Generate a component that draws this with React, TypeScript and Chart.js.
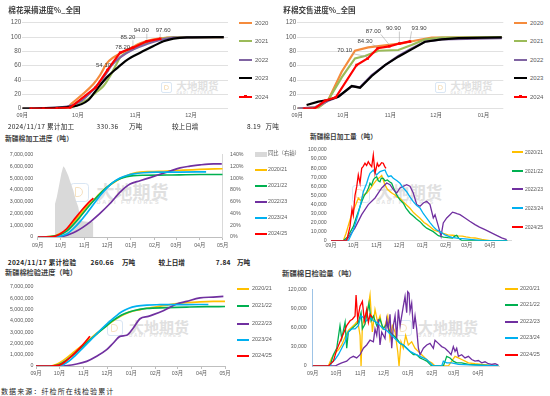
import React, { useEffect, useRef } from "react";
import { Chart, registerables } from "chart.js";

Chart.register(...registerables);

type Pt = [number, number];
type Box = { x: number; y: number; w: number; h: number };
type Area = { l: number; t: number; r: number; b: number };

const LATIN = '"Liberation Sans", "Noto Sans CJK SC", sans-serif';
const CJK = '"Noto Sans CJK SC", "Liberation Sans", sans-serif';
const AXIS_TEXT = "#595959";

// x axis: days counted from 1 September
const MONTH_DAYS = [0, 30, 61, 91, 122, 153, 181, 212, 242];
const MONTH_LABELS = ["09月", "10月", "11月", "12月", "01月", "02月", "03月", "04月", "05月"];

const TOP_YEARS = ["2020", "2021", "2022", "2023", "2024"];
const SEASONS = ["2020/21", "2021/22", "2022/23", "2023/24", "2024/25"];
const TOP_COLORS = ["#F58B3C", "#9BBB59", "#8064A2", "#000000", "#FF0000"];
const SEASON_COLORS = ["#FFC000", "#00B050", "#7030A0", "#00B0F0", "#FF0000"];

// ---------- 棉花采摘进度%_全国 ----------
const PICK_2020: Pt[] = [[0, 0], [24, 1.9], [26.7, 7.4], [32.1, 19.1], [38.4, 34.4], [42, 47], [45.6, 63.3], [49.2, 71.6], [52.8, 77.2], [58.2, 84.2], [63.6, 91.2], [70.8, 96.7], [78, 99.1], [83.4, 100], [108.7, 100]];
const PICK_2021: Pt[] = [[0, 0], [25.8, 1.9], [34.8, 12.1], [40.2, 23.7], [43.8, 31.6], [47.4, 45.6], [50.1, 58.6], [52.8, 71.6], [56.4, 78.6], [61.8, 85.6], [67.2, 92.1], [74.4, 97.2], [81.6, 99.5], [108.7, 100]];
const PICK_2022: Pt[] = [[0, 0], [24, 2.8], [31.2, 9.8], [38.4, 27], [43.8, 43.7], [48.3, 60.9], [52.8, 71.6], [60, 82.8], [67.2, 90.2], [74.4, 95.8], [81.6, 99.1], [108.7, 100]];
const PICK_2023: Pt[] = [[0, 0], [26.7, 2.8], [35.7, 12.1], [40.2, 27], [45.6, 43.7], [51, 56.3], [56.4, 67.9], [63.6, 78.1], [70.8, 87.4], [76.2, 94], [81.6, 97.7], [88.8, 99.5], [108.7, 100]];
const PICK_2024: Pt[] = [[4.5, 0], [11.4, 0], [18.6, 0.5], [25.8, 1.5], [39.7, 29.8], [46, 54.1], [52.8, 78.2], [59.7, 85.2], [67.2, 94], [74.4, 97.6]];

// ---------- 籽棉交售进度%_全国 ----------
const SALE_2020: Pt[] = [[0, 0], [13.8, 1.9], [20.3, 12.1], [29.1, 51.6], [37.8, 80.9], [46.5, 85.6], [57.5, 88.4], [68.4, 91.2], [79.4, 95.8], [88.1, 99.1], [134, 99.5]];
const SALE_2021: Pt[] = [[0, 0], [13.8, 1.9], [20.3, 12.1], [29.1, 43.7], [37.8, 70.2], [44.4, 73.5], [53.1, 80.9], [66.2, 81.9], [74.9, 88.8], [83.7, 96.7], [94.7, 99.1], [134, 100]];
const SALE_2022: Pt[] = [[0, 0], [11.6, 1.9], [20.3, 11.2], [26.9, 16.7], [35.7, 31.6], [41.1, 29.8], [48.8, 47], [57.5, 60.9], [66.2, 73.5], [74.9, 84.2], [83.7, 93.5], [94.7, 96.7], [134, 98.6]];
const SALE_2023: Pt[] = [[6.1, 5.1], [13.8, 9.8], [20.3, 12.1], [26.9, 16.7], [35.7, 31.6], [41.1, 29.3], [48.8, 45.6], [57.5, 60.9], [66.2, 72.6], [74.9, 82.8], [83.7, 93.5], [94.7, 96.7], [105.6, 98.6], [134, 99.5]];
const SALE_2024: Pt[] = [[4.4, 0], [11.2, 0], [18.2, 11], [25.2, 16], [38.9, 61], [46.1, 70.1], [52.7, 84.3], [60.3, 87], [66.9, 90.9], [73.9, 93.9]];

// ---------- 新疆棉加工进度（吨） ----------
const PROC_2020: Pt[] = [[0, 0], [20.5, 80000], [29.2, 300000], [37.9, 650000], [46.6, 1250000], [55.4, 1900000], [64.1, 2550000], [72.8, 3100000], [81.5, 3700000], [90.3, 4200000], [99, 4600000], [107.7, 4950000], [116.5, 5200000], [125.2, 5400000], [133.9, 5500000], [147, 5550000], [168.8, 5600000], [190.6, 5680000], [212.4, 5730000], [242, 5790000]];
const PROC_2021: Pt[] = [[0, 0], [16.1, 30000], [29.2, 200000], [37.9, 500000], [46.6, 1050000], [55.4, 1700000], [64.1, 2400000], [72.8, 3050000], [81.5, 3650000], [90.3, 4200000], [99, 4650000], [107.7, 4950000], [116.5, 5120000], [125.2, 5200000], [138.3, 5240000], [168.8, 5260000], [212.4, 5300000], [242, 5300000]];
const PROC_2022: Pt[] = [[0, 0], [29.2, 30000], [46.6, 360000], [64.1, 1050000], [81.5, 2010000], [94.6, 2840000], [107.7, 3800000], [120.8, 4490000], [133.9, 4770000], [147, 5040000], [160.1, 5320000], [173.2, 5590000], [186.3, 5870000], [199.3, 6010000], [212.4, 6120000], [229.9, 6200000], [240.8, 6200000]];
const PROC_2023: Pt[] = [[0, 0], [24.8, 30000], [37.9, 250000], [46.6, 700000], [55.4, 1300000], [64.1, 2000000], [72.8, 2750000], [81.5, 3500000], [90.3, 4150000], [99, 4650000], [107.7, 5000000], [116.5, 5220000], [125.2, 5350000], [138.3, 5450000], [155.7, 5500000], [186.3, 5510000], [220.3, 5520000]];
const PROC_2024: Pt[] = [[0, 0], [20.5, 30000], [29.2, 250000], [37.9, 700000], [46.6, 1400000], [55.4, 2100000], [64.1, 2750000], [72.8, 3300000]];
const PROC_YOY: Pt[] = [[22.6, 0], [22.6, 56], [25, 68], [28, 88], [31, 108], [33.5, 120], [35.5, 117], [38, 110], [40, 104], [43, 92], [46.6, 79], [50, 62], [53.1, 51], [55.4, 34], [57, 27], [65, 26], [72.8, 26], [72.8, 0]];

// ---------- 新疆棉日加工量（吨） ----------
const DPROC_2020: Pt[] = [[0, 0], [16.4, 0], [20, 8000], [25.3, 22900], [28, 30000], [32, 37600], [36.4, 46800], [40, 44000], [43.1, 50400], [47.6, 52300], [51, 56000], [54.3, 59600], [57, 63000], [60.9, 67000], [64, 69000], [67.6, 72000], [70, 66000], [72, 61500], [75, 57000], [78.7, 54100], [82, 52000], [85.3, 50400], [88, 48000], [92, 46800], [96, 43000], [100, 40000], [105.3, 35800], [110, 31000], [114, 28000], [118.7, 24800], [124, 20000], [128, 18000], [132, 15500], [137, 12000], [143.1, 10000], [150, 8000], [156, 6400], [162, 6000], [169.3, 5300], [175, 5000], [180, 4200], [186, 3500], [192, 3000], [201, 1400], [212, 0], [235, 0]];
const DPROC_2021: Pt[] = [[0, 0], [16.4, 0], [22, 4000], [26, 10000], [29.7, 15500], [33, 24000], [36.4, 32000], [40.9, 43000], [44, 49000], [47.6, 54000], [50, 58000], [52, 63300], [54, 61000], [56.4, 67000], [58, 69000], [60.9, 70600], [63, 66000], [65.3, 65000], [67, 69000], [69.7, 68800], [72, 66000], [75.1, 67000], [78, 65000], [80.9, 63300], [84, 57000], [87.6, 50400], [92, 45000], [96.4, 41300], [100, 36000], [105.3, 30300], [110, 27000], [114, 24000], [118.7, 21000], [123, 17000], [127.6, 13800], [132, 12000], [136.4, 10000], [143.1, 5500], [150, 4000], [156, 3300], [162, 3000], [165, 5000], [167.6, 6000], [170, 3000], [174.7, 0], [235, 0]];
const DPROC_2022: Pt[] = [[0, 0], [18.7, 0], [23.1, 3100], [32, 14100], [40.9, 28700], [49.7, 39800], [58.7, 47100], [67.6, 58100], [74.3, 63700], [78.7, 61800], [83.1, 56300], [87.6, 52600], [92, 58100], [96.4, 60000], [100.9, 61800], [105.3, 60000], [109.7, 52600], [114.3, 39800], [118.7, 38000], [123.1, 41600], [127.6, 43500], [132, 39800], [136.4, 25100], [138.7, 28700], [143.1, 16000], [146.7, 5000], [149.7, 19600], [154.3, 25100], [158.7, 28700], [162, 31500], [165.3, 30600], [168, 29800], [172, 28700], [178.7, 25100], [185, 21500], [192, 17700], [198, 15000], [205.3, 12200], [212, 9500], [218.7, 6700], [227.6, 3100], [234.3, 1100]];
const DPROC_2023: Pt[] = [[0, 0], [23.1, 0], [26, 5000], [29.7, 11900], [33, 20000], [36.4, 30300], [40, 42000], [43.1, 54000], [47.6, 63300], [50, 70000], [52, 74300], [56.4, 78000], [58.5, 75000], [60.9, 72500], [63, 74500], [65.3, 76100], [68, 77000], [72, 78000], [74, 74000], [76.4, 70600], [80, 71500], [83.1, 68800], [88, 66000], [92, 63300], [96, 58500], [100.9, 54000], [105, 48500], [109.7, 43000], [114, 39000], [118.7, 36000], [123, 30000], [127.6, 25000], [132, 20000], [136.4, 15500], [140.5, 12000], [145.3, 10000], [149, 8000], [152, 6400], [157, 4800], [161.3, 3600], [170, 2600], [178.7, 2000], [192, 1000], [205.3, 0], [235, 0]];
const DPROC_2024: Pt[] = [[0, 0], [20.9, 0], [25.3, 15500], [28, 35000], [29.7, 28000], [32, 50000], [34.3, 59600], [36.4, 72500], [38.7, 63300], [40.9, 79800], [43, 82000], [45.3, 85400], [47.5, 83000], [49.7, 87100], [52, 84000], [54.3, 81600], [56.4, 94500], [58.7, 74300], [61.7, 85400], [63.5, 82000], [65.3, 83500], [67.5, 86000], [69.7, 85400], [71.5, 82000], [73.3, 79800]];

// ---------- 新疆棉检验进度（吨） ----------
const INSP_2020: Pt[] = [[0, 0], [17.9, 0], [26.5, 150000], [35, 500000], [43.5, 950000], [52.1, 1450000], [60.6, 1900000], [69.1, 2400000], [77.7, 2900000], [86.2, 3350000], [94.8, 3800000], [103.3, 4200000], [111.9, 4550000], [120.4, 4800000], [133.2, 5000000], [150.2, 5200000], [167.3, 5400000], [188.6, 5600000], [210, 5680000], [227.1, 5720000], [242, 5730000]];
const INSP_2021: Pt[] = [[0, 0], [20, 0], [28.6, 100000], [37.1, 420000], [45.7, 880000], [54.2, 1400000], [62.7, 1900000], [71.3, 2450000], [79.8, 2950000], [88.4, 3450000], [96.9, 3950000], [105.4, 4350000], [114, 4650000], [124.6, 4900000], [141.7, 5100000], [167.3, 5170000], [192.9, 5220000], [218.5, 5260000], [242, 5270000]];
const INSP_2022: Pt[] = [[0, 0], [30.7, 0], [52.1, 180000], [64.9, 410000], [77.7, 860000], [90.5, 1450000], [99, 2040000], [107.6, 2630000], [116.1, 2720000], [124.6, 3370000], [133.2, 4190000], [143.8, 4400000], [150.2, 4550000], [163, 4900000], [180, 5490000], [192.9, 5730000], [210, 6030000], [227.1, 6110000], [239.9, 6170000]];
const INSP_2023: Pt[] = [[0, 0], [22.2, 0], [32.9, 80000], [41.4, 400000], [49.9, 900000], [58.5, 1500000], [67, 2100000], [75.5, 2700000], [84.1, 3300000], [92.6, 3850000], [101.2, 4350000], [109.7, 4800000], [118.2, 5100000], [128.9, 5300000], [141.7, 5400000], [158.8, 5430000], [184.4, 5440000], [210, 5450000], [220.7, 5450000]];
const INSP_2024: Pt[] = [[0, 0], [17.9, 0], [30.7, 100000], [39.3, 500000], [47.8, 1000000], [56.3, 1600000], [62.7, 2100000], [69.1, 2630000]];

// ---------- 新疆棉日检验量（吨） ----------
const DINSP_2020: Pt[] = [[0, 0], [20.1, 0], [24.4, 12600], [28.6, 20200], [32.9, 25200], [37.2, 32800], [41.5, 45400], [45.7, 55500], [50, 60500], [54.3, 65600], [57.7, 70600], [60.7, 47900], [62, 0], [63.7, 63000], [67.1, 78200], [70.5, 88200], [73.5, 110900], [76.5, 53000], [79.9, 88200], [83.3, 68100], [86.3, 78200], [89.3, 58000], [92.7, 63000], [96.2, 78200], [99.1, 42900], [102.1, 63000], [105.6, 53000], [109, 22700], [110.7, 0], [113.2, 37800], [116.2, 27700], [119.2, 47900], [122.6, 32800], [126.9, 37800], [131.2, 27700], [135.5, 22700], [139.7, 17600], [144, 12600], [148.3, 7600], [152.6, 5000], [156.8, 0], [173.9, 0], [178.2, 7600], [182.5, 15100], [186.8, 12600], [191, 10100], [195.3, 7600], [199.6, 5000], [208.1, 3500], [216.7, 2500], [225.2, 1500], [238, 500]];
const DINSP_2021: Pt[] = [[0, 0], [22.2, 0], [26.5, 17600], [30.8, 27700], [35, 63000], [37.2, 42900], [41.5, 68100], [43.6, 27700], [45.7, 53000], [50, 58000], [54.3, 63000], [58.5, 68100], [62, 83200], [63.7, 58000], [67.1, 65600], [72.2, 98300], [74.8, 70600], [77.8, 78200], [82.1, 63000], [86.3, 73100], [90.6, 58000], [94.9, 65600], [99.1, 53000], [103.4, 47900], [107.7, 42900], [112, 35300], [116.2, 32800], [120.5, 27700], [124.8, 22700], [129.1, 17600], [133.3, 17600], [137.6, 12600], [141.9, 10100], [146.2, 7600], [150.4, 2500], [152.6, 0], [167.5, 0], [169.7, 7600], [171.8, 15100], [176.1, 12600], [180.3, 7600], [184.6, 5000], [191, 5000], [199.6, 2500], [216.7, 1500], [238, 500]];
const DINSP_2022: Pt[] = [[0, 0], [28.6, 0], [32.9, 2500], [37.2, 5000], [43.6, 7600], [47.9, 12600], [52.1, 15100], [56.4, 12600], [60.7, 17600], [65, 27700], [69.2, 32800], [73.5, 40300], [77.8, 37800], [79.9, 58000], [82.1, 47900], [84.2, 73100], [86.3, 32800], [88.5, 53000], [92.7, 42900], [94.9, 73100], [97, 58000], [99.1, 80700], [101.3, 27700], [103.4, 63000], [105.6, 78200], [107.7, 42900], [109.8, 88200], [112, 63000], [114.1, 78200], [116.2, 93300], [118.4, 108400], [120.5, 83200], [121.8, 116000], [123.5, 113500], [124.8, 85700], [126.9, 98300], [129.1, 58000], [131.2, 78200], [133.3, 58000], [135.5, 27700], [137.6, 17600], [141.9, 27700], [146.2, 32800], [150.4, 35300], [154.7, 27700], [156.8, 40300], [161.1, 35300], [165.4, 30300], [169.7, 27700], [173.9, 22700], [177.4, 17600], [180.3, 30300], [182.5, 22700], [184.6, 27700], [186.8, 15100], [191, 17600], [195.3, 12600], [199.6, 15100], [203.8, 10100], [208.1, 7600], [212.4, 8600], [216.7, 5000], [220.9, 6600], [225.2, 3500], [229.5, 2500], [233.8, 3500], [238, 1500]];
const DINSP_2023: Pt[] = [[0, 0], [22.2, 0], [24.4, 5000], [28.6, 10100], [32.9, 17600], [37.2, 27700], [41.5, 37800], [45.7, 53000], [50, 58000], [54.3, 58000], [58.5, 63000], [62, 78200], [65, 75600], [69.2, 70600], [73.5, 75600], [77.8, 70600], [82.1, 68100], [86.3, 63000], [90.6, 58000], [94.9, 55500], [99.1, 50400], [103.4, 45400], [107.7, 40300], [112, 35300], [116.2, 32800], [120.5, 27700], [124.8, 22700], [129.1, 20200], [133.3, 17600], [137.6, 15100], [141.9, 12600], [146.2, 10100], [150.4, 5000], [154.7, 0], [165.4, 0], [167.5, 7600], [171.8, 5000], [178.2, 5000], [186.8, 2500], [208.1, 1500], [238, 0]];
const DINSP_2024: Pt[] = [[0, 0], [20.1, 0], [22.2, 2500], [26.5, 7600], [30.8, 25200], [35, 37800], [39.3, 50400], [43.6, 63000], [47.9, 70600], [50.9, 73100], [54.3, 78200], [55.6, 110900], [57.7, 73100], [60.7, 93300], [63.7, 100900], [66.2, 70600], [69.2, 88200], [71.4, 68100], [73.5, 80700], [76.5, 75600]];

// ---------- 统计文字 ----------
const REPORT_DATE = "2024/11/17";
const PROC_TOTAL = "330.36";
const PROC_DAILY_INC = "8.19";
const INSP_TOTAL = "260.66";
const INSP_DAILY_INC = "7.84";

// ---------- helpers ----------
function layoutPadding(box: Box, area: Area, yW: number, xH: number, y1W = 0) {
  return {
    left: area.l - box.x - yW,
    top: area.t - box.y,
    right: box.x + box.w - area.r - y1W,
    bottom: box.y + box.h - area.b - xH,
  };
}

function xScale(o: { max: number; n: number; h: number; pad: number; tickLen: number; border: boolean; size: number; borderColor?: string }) {
  return {
    type: "linear",
    min: 0,
    max: o.max,
    afterBuildTicks: (ax: any) => {
      ax.ticks = MONTH_DAYS.slice(0, o.n).map((v) => ({ value: v }));
    },
    afterFit: (s: any) => {
      s.height = o.h;
    },
    ticks: {
      autoSkip: false,
      maxRotation: 0,
      minRotation: 0,
      padding: o.pad,
      color: AXIS_TEXT,
      font: { family: LATIN, size: o.size },
      callback: (_v: any, i: number) => MONTH_LABELS[i],
    },
    grid: { display: o.tickLen > 0, drawOnChartArea: false, drawTicks: o.tickLen > 0, tickLength: o.tickLen, color: "#bfbfbf" },
    border: { display: o.border, color: o.borderColor ?? "#bfbfbf", width: 1 },
  };
}

function yScale(o: { min: number; max: number; step: number; w: number; pad: number; size: number; fmt: (v: number) => string; grid: boolean; border: boolean; borderColor?: string; position?: string }) {
  return {
    type: "linear",
    position: o.position ?? "left",
    min: o.min,
    max: o.max,
    afterFit: (s: any) => {
      s.width = o.w;
    },
    ticks: {
      stepSize: o.step,
      autoSkip: false,
      padding: o.pad,
      color: AXIS_TEXT,
      font: { family: LATIN, size: o.size },
      callback: (v: any) => o.fmt(Number(v)),
    },
    grid: { display: o.grid, drawOnChartArea: o.grid, drawTicks: false, color: "#d9d9d9", lineWidth: 0.8 },
    border: { display: o.border, color: o.borderColor ?? "#d9d9d9", width: 1 },
  };
}

const commas = (v: number) => v.toLocaleString("en-US");

function lineDs(label: string, pts: Pt[], color: string, width: number, extra: any = {}) {
  return {
    label,
    data: pts.map(([x, y]) => ({ x, y })),
    borderColor: color,
    backgroundColor: color,
    borderWidth: width,
    pointRadius: 0,
    tension: 0,
    fill: false,
    ...extra,
  };
}

function baseOptions(box: Box, area: Area, yW: number, xH: number, y1W: number, scales: any) {
  return {
    responsive: false,
    maintainAspectRatio: false,
    animation: false,
    events: [],
    layout: { padding: layoutPadding(box, area, yW, xH, y1W) },
    plugins: { legend: { display: false }, tooltip: { enabled: false }, title: { display: false } },
    scales,
  };
}

type LabelOffset = { i: number; dx: number; dy: number };

function pointLabels(dsIndex: number, offsets: LabelOffset[]) {
  return {
    id: "pointLabels",
    afterDatasetsDraw(chart: any) {
      const meta = chart.getDatasetMeta(dsIndex);
      const data = chart.data.datasets[dsIndex].data;
      const ctx = chart.ctx;
      ctx.save();
      ctx.font = `6px ${LATIN}`;
      ctx.textAlign = "center";
      ctx.textBaseline = "middle";
      offsets.forEach(({ i, dx, dy }) => {
        const el = meta.data[i];
        if (!el) return;
        const text = Number(data[i].y).toFixed(2);
        const lx = el.x + dx;
        const ly = el.y + dy;
        const w = ctx.measureText(text).width;
        const h = 6;
        const sx = Math.min(Math.max(el.x, lx - w / 2), lx + w / 2);
        const sy = Math.min(Math.max(el.y, ly - h / 2), ly + h / 2);
        if (Math.hypot(el.x - sx, el.y - sy) > 4) {
          ctx.strokeStyle = "#a6a6a6";
          ctx.lineWidth = 0.6;
          ctx.beginPath();
          ctx.moveTo(sx, sy);
          ctx.lineTo(el.x, el.y - 1.5);
          ctx.stroke();
        }
        ctx.fillStyle = "#404040";
        ctx.fillText(text, lx, ly);
      });
      ctx.restore();
    },
  };
}

function ChartCanvas({ box, make }: { box: Box; make: () => any }) {
  const ref = useRef<HTMLCanvasElement | null>(null);
  useEffect(() => {
    if (!ref.current) return;
    const chart = new Chart(ref.current, make());
    return () => chart.destroy();
  }, []);
  return (
    <canvas
      ref={ref}
      width={box.w}
      height={box.h}
      style={{ position: "absolute", left: box.x, top: box.y, width: box.w, height: box.h }}
    />
  );
}

// ---------- chart configs ----------
const TL_BOX: Box = { x: 0, y: 12, w: 236, h: 112 };
const TL_AREA: Area = { l: 22.3, t: 22.7, r: 228, b: 108.7 };
const TR_BOX: Box = { x: 275, y: 12, w: 237, h: 112 };
const TR_AREA: Area = { l: 297.3, t: 22.7, r: 503.3, b: 108.7 };
const ML_BOX: Box = { x: 0, y: 144, w: 252, h: 108 };
const ML_AREA: Area = { l: 37.7, t: 152.7, r: 222.7, b: 237 };
const MR_BOX: Box = { x: 296, y: 142, w: 220, h: 110 };
const MR_AREA: Area = { l: 331, t: 150, r: 511, b: 240.7 };
const BL_BOX: Box = { x: 0, y: 280, w: 236, h: 102 };
const BL_AREA: Area = { l: 36, t: 287, r: 225, b: 366 };
const BR_BOX: Box = { x: 284, y: 280, w: 220, h: 102 };
const BR_AREA: Area = { l: 312.7, t: 287, r: 499.9, b: 366 };

const PICK_LABELS: LabelOffset[] = [
  { i: 5, dx: -4, dy: -5 },
  { i: 6, dx: 2.5, dy: -5.4 },
  { i: 7, dx: -5, dy: -10.3 },
  { i: 8, dx: -5.6, dy: -10.6 },
  { i: 9, dx: 3, dy: -8 },
];
const SALE_LABELS: LabelOffset[] = [
  { i: 5, dx: -23, dy: -8 },
  { i: 6, dx: -12.7, dy: -6.6 },
  { i: 7, dx: -16, dy: -15 },
  { i: 8, dx: -6, dy: -15 },
  { i: 9, dx: 9, dy: -13 },
];

function makeProgress(box: Box, area: Area, xMax: number, nMonths: number, series: Pt[][], labels: LabelOffset[], smooth: boolean) {
  return () => {
    const datasets: any[] = [];
    for (let k = 4; k >= 0; k--) {
      const isLast = k === 4;
      datasets.push(
        lineDs(TOP_YEARS[k], series[k], TOP_COLORS[k], 2.2, isLast
          ? { pointRadius: 1.8, pointStyle: "rect", pointBackgroundColor: TOP_COLORS[k], pointBorderWidth: 0 }
          : smooth ? { cubicInterpolationMode: "monotone" } : {})
      );
    }
    const yW = area.l - box.x;
    const xH = box.y + box.h - area.b;
    return {
      type: "line",
      data: { datasets },
      options: baseOptions(box, area, yW, xH, 0, {
        x: xScale({ max: xMax, n: nMonths, h: xH, pad: 3.3, tickLen: 0, border: false, size: 5.5 }),
        y: yScale({ min: 0, max: 120, step: 20, w: yW, pad: 1, size: 6.3, fmt: (v) => String(v), grid: true, border: false }),
      }),
      plugins: [pointLabels(0, labels)],
    };
  };
}

function makeCumulative(box: Box, area: Area, series: Pt[][], yW: number, yPad: number, xPad: number, y1W: number, yoy: Pt[] | null) {
  return () => {
    const order = [4, 3, 2, 1, 0];
    const datasets: any[] = order.map((k) =>
      lineDs(SEASONS[k], series[k], SEASON_COLORS[k], 1.7, { cubicInterpolationMode: "monotone" })
    );
    const scales: any = {
      x: xScale({ max: 242, n: 9, h: box.y + box.h - area.b - 0, pad: xPad, tickLen: 3, border: true, size: 5.3 }),
      y: yScale({ min: 0, max: 7000000, step: 1000000, w: yW, pad: yPad, size: 5.3, fmt: commas, grid: false, border: false }),
    };
    if (yoy) {
      datasets.push(
        lineDs("同比（右轴）", yoy, "#d9d9d9", 0, { yAxisID: "y1", fill: "origin", backgroundColor: "#d9d9d9" })
      );
      scales.y1 = yScale({ min: 0, max: 140, step: 20, w: y1W, pad: 7.3, size: 5.3, fmt: (v) => v + "%", grid: false, border: true, borderColor: "#d9d9d9", position: "right" });
    }
    const xH = box.y + box.h - area.b;
    return {
      type: "line",
      data: { datasets },
      options: baseOptions(box, area, yW, xH, yoy ? y1W : 0, scales),
    };
  };
}

function makeDaily(box: Box, area: Area, series: Pt[][], yW: number, yPad: number, xPad: number, yMax: number, yStep: number, yBorder: boolean) {
  return () => {
    const order = [4, 3, 2, 1, 0];
    const datasets: any[] = order.map((k) => lineDs(SEASONS[k], series[k], SEASON_COLORS[k], 1.3));
    const xH = box.y + box.h - area.b;
    return {
      type: "line",
      data: { datasets },
      options: baseOptions(box, area, yW, xH, 0, {
        x: xScale({ max: 240, n: 8, h: xH, pad: xPad, tickLen: 0, border: true, size: 5.3, borderColor: "#d9d9d9" }),
        y: yScale({ min: 0, max: yMax, step: yStep, w: yW, pad: yPad, size: 5.2, fmt: commas, grid: false, border: yBorder, borderColor: "#9dc3e6" }),
      }),
    };
  };
}

// ---------- html text helpers ----------
function T({ x, y, text, size, color = "#404040", bold = false, family = CJK, spacing = 0 }: any) {
  return (
    <div
      style={{
        position: "absolute",
        left: x,
        top: y,
        transform: "translateY(-50%)",
        fontSize: size,
        lineHeight: 1,
        fontFamily: family,
        fontWeight: bold ? 700 : 400,
        color,
        whiteSpace: "nowrap",
        letterSpacing: spacing,
      }}
    >
      {text}
    </div>
  );
}

type LegendItem = { label: string; color: string; y: number; kind?: "line" | "box" | "marker" };

function Legend({ items, lineX, lineW, textX, size }: { items: LegendItem[]; lineX: number; lineW: number; textX: number; size: number }) {
  return (
    <>
      {items.map((it, i) => (
        <React.Fragment key={i}>
          {it.kind === "box" ? (
            <div style={{ position: "absolute", left: lineX, top: it.y - 2.5, width: lineW, height: 5, background: it.color }} />
          ) : (
            <div style={{ position: "absolute", left: lineX, top: it.y - 1, width: lineW, height: 2, background: it.color }} />
          )}
          {it.kind === "marker" && (
            <div style={{ position: "absolute", left: lineX + lineW / 2 - 1.5, top: it.y - 1.5, width: 3, height: 3, background: it.color }} />
          )}
          <T x={textX} y={it.y} text={it.label} size={size} color={AXIS_TEXT} family={LATIN} />
        </React.Fragment>
      ))}
    </>
  );
}

function Watermark({ x, y, s }: { x: number; y: number; s: number }) {
  return (
    <div style={{ position: "absolute", left: x, top: y, opacity: 0.7 }}>
      <div
        style={{
          position: "absolute",
          left: 0,
          top: 0,
          width: 16 * s,
          height: 16 * s,
          border: `${1.6 * s}px solid #c9dcf0`,
          borderRadius: 3 * s,
          boxSizing: "border-box",
        }}
      >
        <div
          style={{
            position: "absolute",
            left: 3 * s,
            top: 2.5 * s,
            width: 7 * s,
            height: 8 * s,
            border: `${1.6 * s}px solid #f3d6a8`,
            borderRadius: `0 ${5 * s}px ${5 * s}px 0`,
            boxSizing: "border-box",
          }}
        />
      </div>
      <div
        style={{
          position: "absolute",
          left: 22 * s,
          top: -1 * s,
          fontSize: 15 * s,
          lineHeight: 1,
          fontFamily: CJK,
          fontWeight: 700,
          color: "#d3d3d3",
          whiteSpace: "nowrap",
        }}
      >
        大地期货
      </div>
      <div
        style={{
          position: "absolute",
          left: 22 * s,
          top: 14 * s,
          fontSize: 4.6 * s,
          lineHeight: 1,
          fontFamily: LATIN,
          fontWeight: 700,
          color: "#d3d3d3",
          whiteSpace: "nowrap",
          letterSpacing: 1.6 * s,
        }}
      >
        DADI FUTURES
      </div>
    </div>
  );
}

export default function App() {
  const topItems = (ys: number[]): LegendItem[] =>
    TOP_YEARS.map((y, i) => ({ label: y, color: TOP_COLORS[i], y: ys[i], kind: i === 4 ? "marker" : "line" }));
  const seasonItems = (ys: number[]): LegendItem[] =>
    SEASONS.map((s, i) => ({ label: s, color: SEASON_COLORS[i], y: ys[i] }));

  return (
    <div
      style={{
        position: "fixed",
        left: 0,
        top: 0,
        width: 550,
        height: 396,
        background: "#ffffff",
        overflow: "hidden",
        fontFamily: LATIN,
      }}
    >
      {/* watermarks (behind charts) */}
      <Watermark x={161} y={82} s={0.7} />
      <Watermark x={435} y={82} s={0.7} />
      <Watermark x={70} y={183} s={1.2} />
      <Watermark x={352} y={185} s={1.1} />
      <Watermark x={107} y={320} s={1.0} />
      <Watermark x={396} y={320} s={1.0} />

      <ChartCanvas box={TL_BOX} make={makeProgress(TL_BOX, TL_AREA, 111, 4, [PICK_2020, PICK_2021, PICK_2022, PICK_2023, PICK_2024], PICK_LABELS, true)} />
      <ChartCanvas box={TR_BOX} make={makeProgress(TR_BOX, TR_AREA, 135, 5, [SALE_2020, SALE_2021, SALE_2022, SALE_2023, SALE_2024], SALE_LABELS, false)} />
      <ChartCanvas box={ML_BOX} make={makeCumulative(ML_BOX, ML_AREA, [PROC_2020, PROC_2021, PROC_2022, PROC_2023, PROC_2024], 37.7, 4.4, 2.4, 29.3, PROC_YOY)} />
      <ChartCanvas box={MR_BOX} make={makeDaily(MR_BOX, MR_AREA, [DPROC_2020, DPROC_2021, DPROC_2022, DPROC_2023, DPROC_2024], 35, 4.3, 2, 100000, 10000, false)} />
      <ChartCanvas box={BL_BOX} make={makeCumulative(BL_BOX, BL_AREA, [INSP_2020, INSP_2021, INSP_2022, INSP_2023, INSP_2024], 36, 2.5, 1.7, 0, null)} />
      <ChartCanvas box={BR_BOX} make={makeDaily(BR_BOX, BR_AREA, [DINSP_2020, DINSP_2021, DINSP_2022, DINSP_2023, DINSP_2024], 28.7, 6, 4.7, 120000, 30000, true)} />

      {/* titles */}
      <T x={8.3} y={9.7} text="棉花采摘进度%_全国" size={7.6} bold />
      <T x={283.3} y={9.7} text="籽棉交售进度%_全国" size={7.6} bold />
      <T x={5} y={138} text="新疆棉加工进度（吨）" size={6.8} bold />
      <T x={310} y={136.3} text="新疆棉日加工量（吨）" size={6.7} bold />
      <T x={5} y={273} text="新疆棉检验进度（吨）" size={7.2} bold />
      <T x={282} y={273} text="新疆棉日检验量（吨）" size={7.4} bold />

      {/* stats rows */}
      <T x={7.7} y={126} text={`${REPORT_DATE} 累计加工`} size={6.6} color="#262626" spacing={0.3} />
      <T x={96.5} y={126} text={PROC_TOTAL} size={6.6} color="#262626" spacing={0.3} />
      <T x={129} y={126} text="万吨" size={6.6} color="#262626" />
      <T x={172} y={126} text="较上日增" size={6.6} color="#262626" />
      <T x={247} y={126} text={PROC_DAILY_INC} size={6.6} color="#262626" spacing={0.3} />
      <T x={265.6} y={126} text="万吨" size={6.6} color="#262626" />

      <T x={7.7} y={261.5} text={`${REPORT_DATE} 累计检验`} size={6.6} color="#262626" bold spacing={0.3} />
      <T x={90.5} y={261.5} text={INSP_TOTAL} size={6.6} color="#262626" bold spacing={0.3} />
      <T x={122} y={261.5} text="万吨" size={6.6} color="#262626" bold />
      <T x={158.6} y={261.5} text="较上日增" size={6.6} color="#262626" bold />
      <T x={215.8} y={261.5} text={INSP_DAILY_INC} size={6.6} color="#262626" bold spacing={0.3} />
      <T x={237} y={261.5} text="万吨" size={6.6} color="#262626" bold />

      {/* source */}
      <T x={1} y={391} text="数据来源：纤检所在线检验累计" size={7} color="#262626" spacing={1.1} />

      {/* legends */}
      <Legend items={topItems([22.7, 41, 59.7, 78, 96.7])} lineX={239.3} lineW={12.4} textX={255} size={6} />
      <Legend items={topItems([22.7, 41, 59.7, 78, 96.7])} lineX={514.3} lineW={12.4} textX={530} size={6} />
      <Legend
        items={[{ label: "同比（右轴）", color: "#d9d9d9", y: 154, kind: "box" }, ...seasonItems([170, 186, 202, 217.7, 234])]}
        lineX={255}
        lineW={12}
        textX={268}
        size={5.3}
      />
      <Legend items={seasonItems([152, 171, 189, 208, 227])} lineX={512} lineW={11} textX={525} size={5} />
      <Legend items={seasonItems([289, 306, 324, 340, 356])} lineX={237} lineW={12} textX={252} size={5.5} />
      <Legend items={seasonItems([289, 305, 322, 338, 355])} lineX={505} lineW={13} textX={520} size={5.5} />
    </div>
  );
}
